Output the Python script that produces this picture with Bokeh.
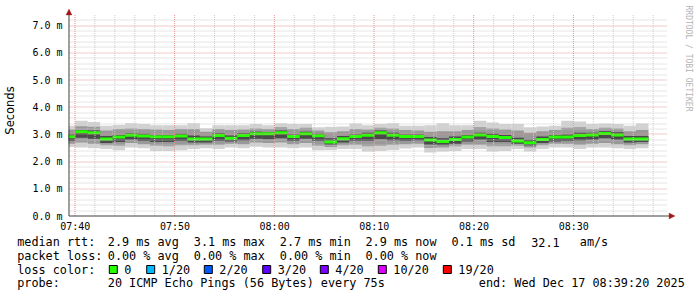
import math
from bokeh.plotting import figure
from bokeh.models import Label, PolyAnnotation, FixedTicker, Range1d, ColumnDataSource
from bokeh.core.properties import value
from bokeh.embed import file_html
from bokeh.resources import INLINE

# ---------------- data ----------------
# times in minutes after 07:00
data_start = 39 + 20 / 60      # 07:39:20
data_end = 99 + 20 / 60        # 08:39:20
first_bar_end = 40.0           # 07:40:00
step_min = 75 / 60             # one probe round every 75 s

median_ms = [2.91, 3.10, 3.06, 2.83, 2.90, 2.97, 2.94, 2.91, 2.91, 2.94, 2.83, 2.83,
             2.96, 2.86, 2.96, 3.02, 3.02, 3.06, 2.92, 3.02, 2.95, 2.72, 2.84, 2.92,
             2.97, 3.06, 2.97, 2.92, 2.92, 2.79, 2.74, 2.81, 2.90, 2.98, 2.92, 2.89,
             2.76, 2.69, 2.81, 2.90, 2.90, 2.96, 2.98, 3.03, 2.98, 2.83, 2.83]
max_ms = [3.32, 3.50, 3.46, 3.32, 3.35, 3.41, 3.38, 3.34, 3.34, 3.34, 3.41, 3.23,
          3.34, 3.34, 3.34, 3.38, 3.34, 3.41, 3.38, 3.38, 3.26, 3.28, 3.29, 3.40,
          3.34, 3.38, 3.41, 3.32, 3.32, 3.34, 3.41, 3.34, 3.34, 3.50, 3.44, 3.38,
          3.38, 3.26, 3.29, 3.32, 3.50, 3.47, 3.38, 3.40, 3.38, 3.32, 3.40]
min_ms = [2.54, 2.52, 2.49, 2.46, 2.42, 2.52, 2.49, 2.39, 2.39, 2.42, 2.46, 2.49,
          2.46, 2.52, 2.49, 2.55, 2.52, 2.52, 2.49, 2.52, 2.42, 2.43, 2.46, 2.46,
          2.37, 2.39, 2.43, 2.48, 2.52, 2.33, 2.37, 2.39, 2.46, 2.46, 2.37, 2.39,
          2.46, 2.37, 2.46, 2.52, 2.52, 2.46, 2.52, 2.52, 2.49, 2.46, 2.49]
mid_hi_ms = [3.18, 3.30, 3.28, 3.14, 3.20, 3.22, 3.20, 3.18, 3.16, 3.20, 3.20, 3.10,
             3.20, 3.16, 3.18, 3.22, 3.20, 3.26, 3.20, 3.24, 3.14, 3.08, 3.12, 3.20,
             3.18, 3.24, 3.22, 3.16, 3.14, 3.10, 3.12, 3.12, 3.16, 3.26, 3.22, 3.18,
             3.14, 3.06, 3.12, 3.16, 3.24, 3.26, 3.20, 3.24, 3.22, 3.12, 3.16]
mid_lo_ms = [2.66, 2.70, 2.66, 2.60, 2.58, 2.68, 2.64, 2.58, 2.56, 2.60, 2.60, 2.62,
             2.62, 2.66, 2.64, 2.70, 2.68, 2.70, 2.64, 2.68, 2.58, 2.54, 2.60, 2.62,
             2.56, 2.58, 2.62, 2.64, 2.66, 2.50, 2.52, 2.56, 2.62, 2.62, 2.56, 2.56,
             2.58, 2.52, 2.60, 2.66, 2.66, 2.62, 2.66, 2.68, 2.64, 2.60, 2.64]
core_hi_ms = [3.00, 3.16, 3.14, 2.94, 2.98, 3.04, 3.02, 2.98, 2.98, 3.02, 2.96, 2.92,
              3.04, 2.96, 3.04, 3.10, 3.08, 3.14, 3.00, 3.10, 3.02, 2.86, 2.94, 3.00,
              3.06, 3.14, 3.06, 3.00, 3.00, 2.90, 2.86, 2.92, 2.98, 3.06, 3.02, 2.98,
              2.88, 2.80, 2.92, 2.98, 3.00, 3.06, 3.06, 3.12, 3.08, 2.94, 2.94]
core_lo_ms = [2.76, 2.88, 2.84, 2.68, 2.72, 2.80, 2.76, 2.72, 2.72, 2.76, 2.70, 2.70,
              2.76, 2.74, 2.78, 2.84, 2.82, 2.86, 2.76, 2.84, 2.76, 2.62, 2.70, 2.76,
              2.76, 2.82, 2.78, 2.76, 2.78, 2.62, 2.60, 2.66, 2.74, 2.80, 2.72, 2.72,
              2.66, 2.58, 2.68, 2.74, 2.76, 2.78, 2.80, 2.86, 2.80, 2.70, 2.72]

x_tick_values = [40, 50, 60, 70, 80, 90]
x_tick_labels = ["07:40", "07:50", "08:00", "08:10", "08:20", "08:30"]
y_tick_values = [0, 1, 2, 3, 4, 5, 6, 7]
y_tick_labels = ["0.0 m", "1.0 m", "2.0 m", "3.0 m", "4.0 m", "5.0 m", "6.0 m", "7.0 m"]

loss_labels = ["0", "1/20", "2/20", "3/20", "4/20", "10/20", "19/20"]
loss_colors = ["#26ff00", "#00b8ff", "#0059ff", "#5e00ff", "#7e00ff", "#dd00ff", "#ff0000"]

rtt_stats = ["2.9 ms avg", "3.1 ms max", "2.7 ms min", "2.9 ms now", "0.1 ms sd"]
rtt_am = ["32.1", "am/s"]
loss_stats = ["0.00 % avg", "0.00 % max", "0.00 % min", "0.00 % now"]
probe_text = "20 ICMP Echo Pings (56 Bytes) every 75s"
end_text = "end: Wed Dec 17 08:39:20 2025"
watermark = "RRDTOOL / TOBI OETIKER"

# ---------------- layout ----------------
W = 697
H1 = 234          # chart part
H2 = 297 - H1     # legend part
BL, BB = 62, 14
FW, FH = W - BL, H1 - BB
PX_PER_MIN = 10.0
PX_PER_MS = 27.2
ZERO_PY = 215.5
x0 = 40 - (72.8 - BL) / PX_PER_MIN
y0 = -(FH - ZERO_PY) / PX_PER_MS


def X(px):
    return x0 + (px - BL) / PX_PER_MIN


def Y(py):
    return y0 + (FH - py) / PX_PER_MS


def snap_y(v):
    py = ZERO_PY - v * PX_PER_MS
    return Y(math.floor(py) + 0.5)


def snap_x(m):
    px = BL + (m - x0) * PX_PER_MIN
    return X(math.floor(px) + 0.5)


p = figure(width=W, height=H1, min_border_left=BL, min_border_right=0,
           min_border_top=0, min_border_bottom=BB,
           x_range=Range1d(x0, x0 + FW / PX_PER_MIN),
           y_range=Range1d(y0, y0 + FH / PX_PER_MS),
           output_backend="svg", toolbar_location=None,
           background_fill_color="white", border_fill_color="white")
p.outline_line_color = None
p.xgrid.visible = False
p.ygrid.visible = False

# ---------------- smoke ----------------
n = len(median_ms)
ends = [first_bar_end + step_min * k for k in range(n)]
lefts = [data_start] + ends[:-1]
src = ColumnDataSource(dict(left=lefts, right=ends, med=median_ms,
                            mn=min_ms, mx=max_ms, mlo=mid_lo_ms, mhi=mid_hi_ms,
                            clo=core_lo_ms, chi=core_hi_ms))
p.quad(left="left", right="right", bottom="mn", top="mx", source=src,
       fill_color="#d2d2d2", line_color=None)
p.quad(left="left", right="right", bottom="mlo", top="mhi", source=src,
       fill_color="#999999", line_color=None)
p.quad(left="left", right="right", bottom="clo", top="chi", source=src,
       fill_color="#4a4a4a", line_color=None)
p.segment(x0="left", x1="right", y0="med", y1="med", source=src,
          line_color=loss_colors[0], line_width=3, line_cap="butt")

# ---------------- grid ----------------
top_ms = Y(14.5)
gx0, gx1 = X(67), X(667)
minor_y = [snap_y(k / 5) for k in range(1, 37) if k % 5 != 0]
major_y = [snap_y(v) for v in y_tick_values[1:]]
minor_x = [snap_x(m) for m in range(42, 99, 2) if m % 10 != 0]
major_x = [snap_x(m) for m in x_tick_values]
p.segment(x0=[gx0] * len(minor_y), x1=[gx1] * len(minor_y), y0=minor_y, y1=minor_y,
          line_color="#cccccc", line_width=1, line_dash="1 1")
p.segment(x0=minor_x, x1=minor_x, y0=[0] * len(minor_x), y1=[top_ms] * len(minor_x),
          line_color="#cccccc", line_width=1, line_dash="1 1")
p.segment(x0=[gx0] * len(major_y), x1=[gx1] * len(major_y), y0=major_y, y1=major_y,
          line_color="#e49494", line_width=1, line_dash="1 1")
p.segment(x0=major_x, x1=major_x, y0=[0] * len(major_x), y1=[top_ms] * len(major_x),
          line_color="#e49494", line_width=1, line_dash="1 1")

# axis lines and arrows
ax_x = X(66.5)
p.segment(x0=[ax_x, ax_x], x1=[ax_x, X(669)], y0=[0, 0], y1=[Y(14), 0],
          line_color="#404040", line_width=1)
p.add_layout(PolyAnnotation(xs=[ax_x, X(63.5), X(69.5)], ys=[Y(8.5), Y(14.5), Y(14.5)],
                            fill_color="#a01818", fill_alpha=1, line_color="#a01818"))
p.add_layout(PolyAnnotation(xs=[X(668.5), X(674.5), X(668.5)], ys=[Y(212.5), 0, Y(218.5)],
                            fill_color="#a01818", fill_alpha=1, line_color="#a01818"))

# ---------------- axes ----------------
for ax in (p.xaxis[0], p.yaxis[0]):
    ax.axis_line_color = None
    ax.major_tick_line_color = None
    ax.minor_tick_line_color = None
    ax.major_tick_in = 0
    ax.major_tick_out = 0
    ax.major_label_text_font = "DejaVu Sans Mono"
    ax.major_label_text_font_size = "10px"
    ax.major_label_text_color = "#000000"
p.xaxis.ticker = FixedTicker(ticks=x_tick_values)
p.xaxis.major_label_overrides = dict(zip(x_tick_values, x_tick_labels))
p.xaxis.major_label_standoff = 0
p.yaxis.ticker = FixedTicker(ticks=y_tick_values)
p.yaxis.major_label_overrides = dict(zip(y_tick_values, y_tick_labels))
p.yaxis.major_label_standoff = 2
p.yaxis.axis_label = "Seconds"
p.yaxis.axis_label_text_font = "DejaVu Sans"
p.yaxis.axis_label_text_font_style = "normal"
p.yaxis.axis_label_text_font_size = "11.5px"
p.yaxis.axis_label_text_color = "#000000"
p.yaxis.axis_label_standoff = 12

p.add_layout(Label(x=X(687.5), y=Y(5), text=watermark, text_font="DejaVu Sans Mono",
                   text_font_size="8px", text_color="#b4b4b4", text_baseline="middle",
                   text_align="left", angle=-90, angle_units="deg"))

# ---------------- legend part (page pixel coordinates) ----------------
q = figure(width=W, height=H2, min_border=0, min_border_left=0, min_border_right=0,
           min_border_top=0, min_border_bottom=0, x_range=Range1d(0, W),
           y_range=Range1d(297, H1), output_backend="svg", toolbar_location=None,
           x_axis_location=None, y_axis_location=None,
           background_fill_color="white", border_fill_color="white")
q.outline_line_color = None
q.xgrid.visible = False
q.ygrid.visible = False

row = [241.6, 255.3, 269.0, 282.8]
stat_x = [107.3, 193.3, 279.3, 365.0, 451.0]
tx, ty, tt = [], [], []


def put(x, y, s):
    tx.append(x)
    ty.append(y)
    tt.append(s)


put(16.7, row[0], "median rtt:")
for sx, s in zip(stat_x, rtt_stats):
    put(sx, row[0], s)
put(530.7, row[0], rtt_am[0])
put(579.3, row[0], rtt_am[1])
put(16.7, row[1], "packet loss:")
for sx, s in zip(stat_x, loss_stats):
    put(sx, row[1], s)
put(16.7, row[2], "loss color:")
box_x = [108.3, 145.7, 203.3, 261.7, 319.3, 377.3, 442.3]
for bx, lab in zip(box_x, loss_labels):
    put(bx + 15.5, row[2], lab)
put(16.7, row[3], "probe:")
put(107.3, row[3], probe_text)
put(478.3, row[3], end_text)

q.text(x=tx, y=ty, text=tt, text_font=value("DejaVu Sans Mono"), text_font_size="11.8px",
       text_color="#000000", text_baseline="middle", text_align="left")
q.quad(left=[b + 0.5 for b in box_x], right=[b + 8.5 for b in box_x],
       top=[row[2] - 4] * len(box_x), bottom=[row[2] + 4] * len(box_x),
       fill_color=loss_colors, line_color="#000000", line_width=1)

open("out.html", "w").write(file_html([p, q], INLINE))
